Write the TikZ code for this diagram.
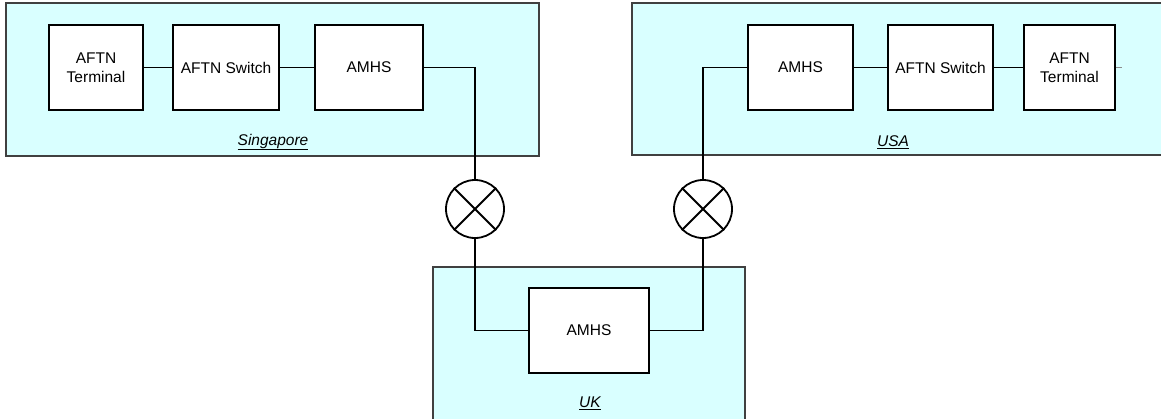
\documentclass[tikz,border=0pt]{standalone}
\usepackage{fontspec}
\setmainfont{Liberation Sans}
\usepackage{xcolor}
\usepackage{tikz}
\definecolor{regionfill}{HTML}{D9FFFF}
\tikzset{
  unit/.style={draw, line width=1.8pt, fill=white, minimum height=85pt,
    align=center, font=\fontsize{15.5}{19}\selectfont, inner sep=0pt},
  region/.style={draw=black!75, line width=1.4pt, fill=regionfill},
  mux/.style={draw, line width=1.8pt, circle, minimum size=58pt, inner sep=0pt},
  link/.style={line width=1.8pt},
  place/.style={font=\fontsize{15.5}{19}\selectfont\itshape}
}

\begin{document}
\begin{tikzpicture}[x=1pt, y=-1pt]

\useasboundingbox (0,0) rectangle (1161,418);

\draw[region] (6,3) rectangle (539,156); % Singapore
\draw[region] (632,3) rectangle (1170,155); % USA
\draw[region] (433,267) rectangle (745,425); % UK

\node[unit, minimum width=94pt] (sgTerm) at (96,67.5) {AFTN\\Terminal};
\node[unit, minimum width=106pt] (sgSwitch) at (226,67.5) {AFTN Switch};
\node[unit, minimum width=108pt] (sgAMHS) at (369,67.5) {AMHS};

\node[unit, minimum width=105pt] (usAMHS) at (800.5,67.5) {AMHS};
\node[unit, minimum width=105pt] (usSwitch) at (940.5,67.5) {AFTN Switch};
\node[unit, minimum width=91pt] (usTerm) at (1069.5,67.5) {AFTN\\Terminal};
\coordinate (usStub) at (1122,67.5);

\node[unit, minimum width=120pt] (ukAMHS) at (589,330.5) {AMHS};

\node[mux] (muxA) at (475,209) {};
\node[mux] (muxB) at (703,209) {};
\draw[link] (muxA.45) -- (muxA.225) (muxA.135) -- (muxA.315);
\draw[link] (muxB.45) -- (muxB.225) (muxB.135) -- (muxB.315);

\draw[link] (sgTerm) -- (sgSwitch);
\draw[link] (sgSwitch) -- (sgAMHS);
\draw[link] (usAMHS) -- (usSwitch);
\draw[link] (usSwitch) -- (usTerm);
\draw[black!45, line width=1pt] (usTerm.east) -- (usStub);

\draw[link] (sgAMHS.east) -| (muxA.north);
\draw[link] (muxA.south) |- (ukAMHS.west);
\draw[link] (ukAMHS.east) -| (muxB.south);
\draw[link] (muxB.north) |- (usAMHS.west);

\node[place] (sgName) at (273,142) {\underline{Singapore}};
\node[place] (usName) at (893,142) {\underline{USA}};
\node[place] (ukName) at (590,403) {\underline{UK}};

\end{tikzpicture}
\end{document}
